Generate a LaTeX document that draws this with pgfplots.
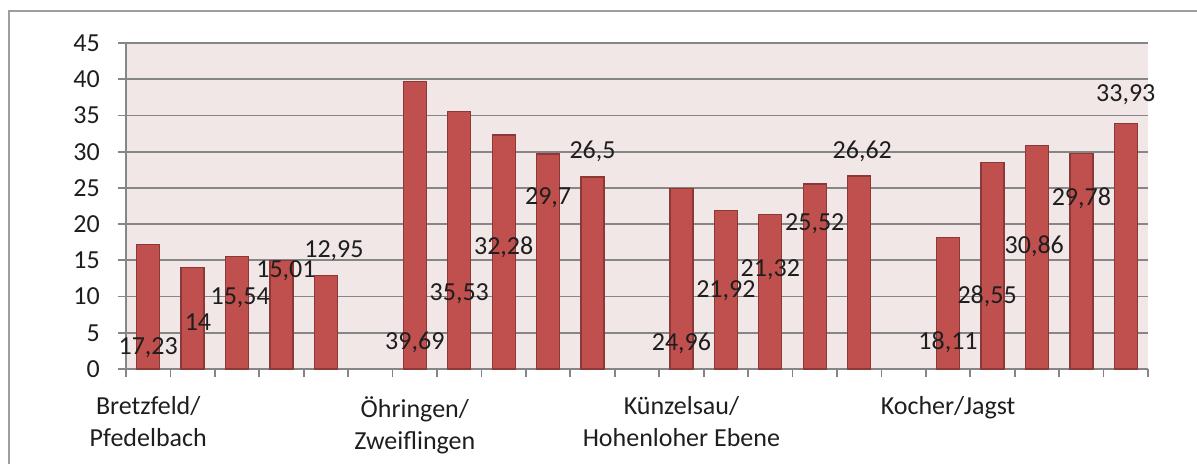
\documentclass[border=0pt]{standalone}
\usepackage{fontspec}
\setmainfont{Carlito}
\usepackage{pgfplots}
\usepackage{pgfplotstable}
\pgfplotsset{compat=1.18}

\definecolor{barfill}{RGB}{192,80,77}
\definecolor{baredge}{RGB}{140,56,54}
\definecolor{plotbg}{RGB}{242,231,231}
\definecolor{gridgray}{RGB}{134,134,134}
\definecolor{txt}{RGB}{30,30,30}

% bars: slot index, value
\pgfplotstableread{
x v
0 17.23
1 14
2 15.54
3 15.01
4 12.95
6 39.69
7 35.53
8 32.28
9 29.7
10 26.5
12 24.96
13 21.92
14 21.32
15 25.52
16 26.62
18 18.11
19 28.55
20 30.86
21 29.78
22 33.93
}\bars

% data labels where the chart puts them
\pgfplotstableread{
x ly lab
0 2.9 17,23
1.12 6.5 14
2.07 9.8 15,54
3.1 13.5 15,01
4.18 16.3 12,95
6 3.7 39,69
7 10.4 35,53
8 16.8 32,28
9 23.6 29,7
10 30.0 26,5
12 3.6 24,96
13 10.8 21,92
14 13.7 21,32
15 20.1 25,52
16.07 30.0 26,62
18 3.7 18,11
18.88 10.1 28,55
19.94 17.0 30,86
21 23.6 29,78
22 37.8 33,93
}\labels

\begin{document}
\fontsize{19.5}{24}\selectfont
\begin{tikzpicture}
\useasboundingbox (-94.5pt,-71.25pt) rectangle (803.25pt,276.75pt);
\draw[gridgray!80, line width=1.1pt] (-87.75pt,-90pt) |- (820pt,268.5pt);
\begin{axis}[
    at={(0,0)}, anchor=south west,
    scale only axis,
    width=766.5pt, height=244.5pt,
    xmin=-0.5, xmax=22.5,
    ymin=0, ymax=45,
    ytick={0,5,...,45},
    xtick={-0.5,0.5,...,22.5},
    xticklabels={{Bretzfeld/\\Pfedelbach},,,,,,{Öhringen/\\Zweiflingen},,,,,,{Künzelsau/\\Hohenloher Ebene},,,,,,{Kocher/Jagst}},
    xticklabel style={align=center, xshift=16.66pt, anchor=north, yshift=-7.75pt},
    yticklabel style={anchor=east, inner sep=0pt, xshift=-13.5pt},
    axis x line=bottom, axis y line=left,
    axis line style={-, gridgray, line width=1.3pt},
    tick style={gridgray, line width=1.3pt},
    tick align=outside, major tick length=6pt,
    ymajorgrids,
    grid style={gridgray, line width=1.3pt},
    axis background/.style={fill=plotbg},
    /pgf/number format/assume math mode=true,
    ticklabel style={text=txt},
    clip=false,
]
\addplot[ybar, bar width=17.25pt, fill=barfill, draw=baredge, line width=1pt]
    table[x=x, y=v] {\bars};
\addplot[draw=none, mark=none, nodes near coords, point meta=explicit symbolic,
    nodes near coords style={anchor=center, text=txt}]
    table[x=x, y=ly, meta=lab] {\labels};
\end{axis}
\end{tikzpicture}
\end{document}
